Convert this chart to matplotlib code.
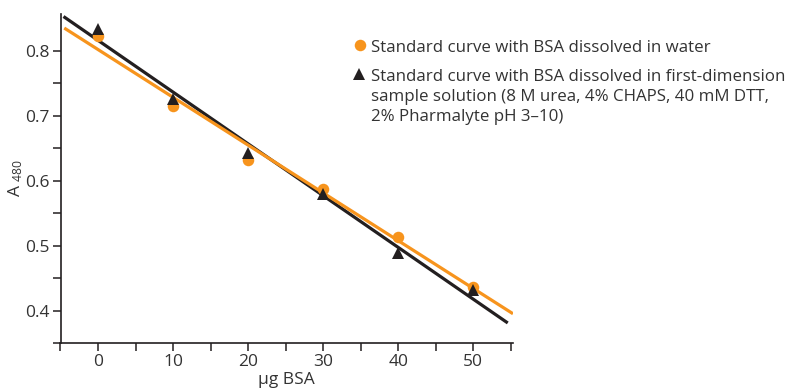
import numpy as np
import matplotlib
matplotlib.use("Agg")
import matplotlib.pyplot as plt

# ---- data ----
bsa_ug = [0, 10, 20, 30, 40, 50]
a480_water = [0.823, 0.715, 0.632, 0.588, 0.514, 0.437]
a480_sample = [0.834, 0.726, 0.643, 0.580, 0.488, 0.431]
fit_range_water = [-4.5, 55.3]
fit_range_sample = [-4.6, 54.6]
x_ticks = [0, 10, 20, 30, 40, 50]
y_ticks = [0.4, 0.5, 0.6, 0.7, 0.8]
label_water = "Standard curve with BSA dissolved in water"
label_sample = ["Standard curve with BSA dissolved in first-dimension",
                "sample solution (8 M urea, 4% CHAPS, 40 mM DTT,",
                "2% Pharmalyte pH 3\u201310)"]

ORANGE = "#F7941D"
BLACK = "#231F20"
TXT = "#333333"

plt.rcParams['font.family'] = ['Open Sans', 'DejaVu Sans']

W, H = 796, 389
fig = plt.figure(figsize=(W / 100, H / 100), dpi=100)

def fx(px):
    return px / W

def fy(py):
    return 1 - py / H

left, right, top, bottom = 60.5, 513, 14, 343
ax = fig.add_axes([fx(left), fy(bottom), fx(right) - fx(left), fy(top) - fy(bottom)])

ax.set_xlim(-5, 55.3)
ax.set_ylim(0.35, 0.857)

# regression lines
k_w, b_w = np.polyfit(bsa_ug, a480_water, 1)
k_s, b_s = np.polyfit(bsa_ug, a480_sample, 1)
xw = np.array(fit_range_water)
xs_ = np.array(fit_range_sample)
ax.plot(xs_, k_s * xs_ + b_s, color=BLACK, lw=2.3, zorder=2, solid_capstyle='butt')
ax.plot(xw, k_w * xw + b_w, color=ORANGE, lw=2.3, zorder=3, solid_capstyle='butt')

ax.plot(bsa_ug, a480_water, 'o', color=ORANGE, ms=8.3, mew=0, zorder=4, clip_on=False)
ax.plot(bsa_ug, a480_sample, '^', color=BLACK, ms=8.3, mew=0, zorder=5, clip_on=False)

# axes styling
for s in ['top', 'right']:
    ax.spines[s].set_visible(False)
for s in ['left', 'bottom']:
    ax.spines[s].set_color(BLACK)
    ax.spines[s].set_linewidth(1.2)

ax.set_xticks(x_ticks)
ax.set_xticks([-5, 5, 15, 25, 35, 45, 55], minor=True)
ax.set_yticks(y_ticks)
ax.set_yticks([0.35, 0.45, 0.55, 0.65, 0.75], minor=True)
ax.set_xticklabels([str(v) for v in x_ticks])
ax.set_yticklabels([f"{v:.1f}" for v in y_ticks])
ax.tick_params(which='both', direction='out', length=6, width=1.1, color=BLACK,
               labelsize=12.5, labelcolor=TXT, pad=2)

ax.set_xlabel("\u00b5g BSA", fontsize=12.5, color=TXT, labelpad=1)
ax.set_ylabel(r"A $\mathregular{_{480}}$", fontsize=12.5, color=TXT, labelpad=0)

# legend (manual)
ov = fig.add_axes([0, 0, 1, 1], facecolor='none')
ov.set_xlim(0, W)
ov.set_ylim(H, 0)
ov.axis('off')
ov.plot([360], [45], 'o', color=ORANGE, ms=8.3, mew=0)
ov.plot([359], [74], '^', color=BLACK, ms=8.3, mew=0)
ov.text(371, 51.5, label_water, fontsize=12.2, color=TXT, va='baseline', ha='left')
for i, line in enumerate(label_sample):
    ov.text(371, 80.5 + 20 * i, line, fontsize=12.2, color=TXT, va='baseline', ha='left')

fig.savefig("out.png", dpi=100)
